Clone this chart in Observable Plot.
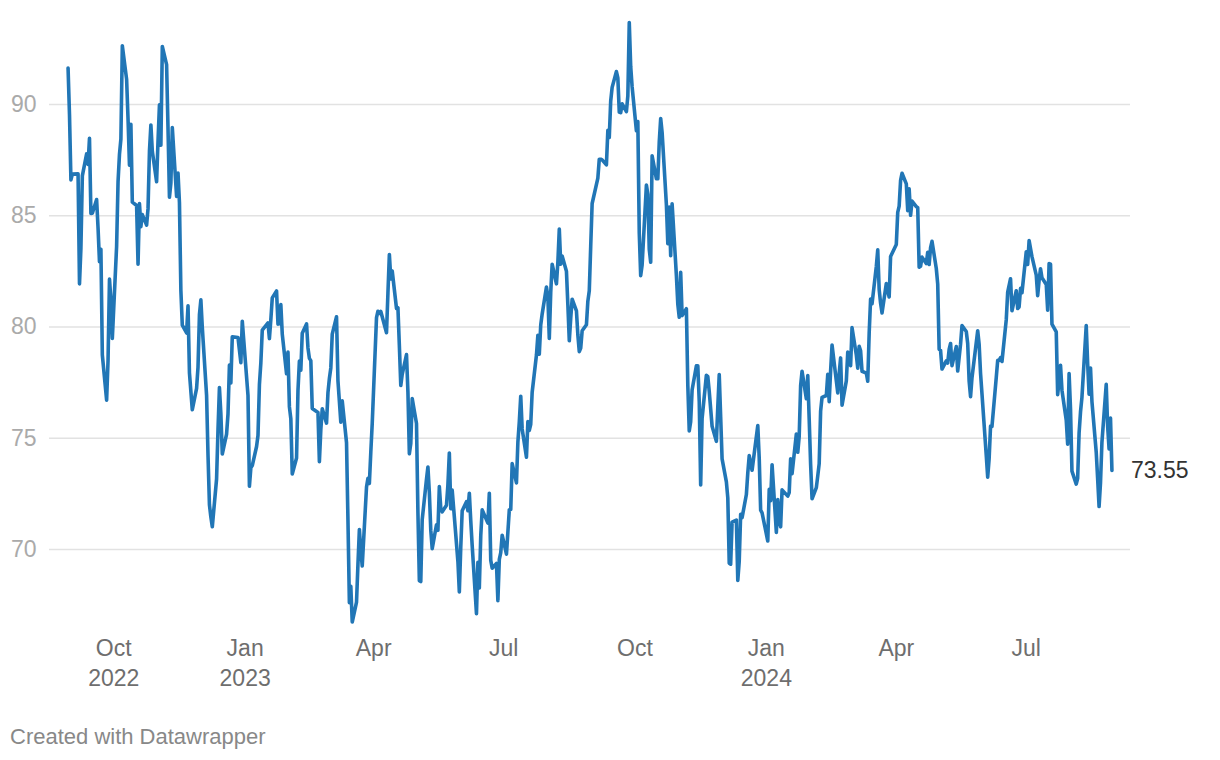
<!DOCTYPE html>
<html>
<head>
<meta charset="utf-8">
<script src="https://cdn.jsdelivr.net/npm/d3@7"></script>
<script src="https://cdn.jsdelivr.net/npm/@observablehq/plot@0.6"></script>
<style>
  html, body { margin: 0; padding: 0; background: #fff; }
  body { width: 1220px; height: 760px; overflow: hidden; font-family: "Liberation Sans", Arial, Helvetica, sans-serif; }
  #footer { margin-top: 19px; padding-left: 10px; font-size: 22px; line-height: 26px; color: #888; }
</style>
</head>
<body>
<div id="chart"></div>
<div id="footer">Created with Datawrapper</div>
<script>
// Daily closes, [month-day, value]
const wti2022 = [["08-30",91.64],["08-31",89.55],["09-01",86.61],["09-02",86.87],["09-06",86.88],["09-07",81.94],["09-08",83.54],["09-09",86.79],["09-12",87.78],["09-13",87.31],["09-14",88.48],["09-15",85.10],["09-16",85.11],["09-19",85.73],["09-20",84.45],["09-21",82.94],["09-22",83.49],["09-23",78.74],["09-26",76.71],["09-27",78.50],["09-28",82.15],["09-29",81.23],["09-30",79.49],["10-03",83.63],["10-04",86.52],["10-05",87.76],["10-06",88.45],["10-07",92.64],["10-10",91.13],["10-11",89.35],["10-12",87.27],["10-13",89.11],["10-14",85.61],["10-17",85.46],["10-18",82.82],["10-19",85.55],["10-20",84.51],["10-21",85.05],["10-24",84.58],["10-25",85.32],["10-26",87.91],["10-27",89.08],["10-28",87.90],["10-31",86.53],["11-01",88.37],["11-02",89.99],["11-03",88.17],["11-04",92.61],["11-07",91.79],["11-08",88.91],["11-09",85.83],["11-10",86.47],["11-11",88.96],["11-14",85.87],["11-15",86.92],["11-16",85.59],["11-17",81.64],["11-18",80.08],["11-21",79.73],["11-22",80.95],["11-23",77.94],["11-25",76.28],["11-28",77.24],["11-29",78.20],["11-30",80.55],["12-01",81.22],["12-02",79.98],["12-05",76.93],["12-06",74.25],["12-07",72.01],["12-08",71.46],["12-09",71.02],["12-12",73.17],["12-13",75.39],["12-14",77.28],["12-15",76.11],["12-16",74.29],["12-19",75.19],["12-20",76.09],["12-21",78.29],["12-22",77.49],["12-23",79.56],["12-27",79.53],["12-28",78.96],["12-29",78.40],["12-30",80.26]];

const wti2023 = [["01-03",76.93],["01-04",72.84],["01-05",73.67],["01-06",73.77],["01-09",74.63],["01-10",75.12],["01-11",77.41],["01-12",78.39],["01-13",79.86],["01-17",80.18],["01-18",79.48],["01-19",80.33],["01-20",81.31],["01-23",81.62],["01-24",80.13],["01-25",80.15],["01-26",81.01],["01-27",79.68],["01-30",77.90],["01-31",78.87],["02-01",76.41],["02-02",75.88],["02-03",73.39],["02-06",74.11],["02-07",77.14],["02-08",78.47],["02-09",78.06],["02-10",79.72],["02-13",80.14],["02-14",79.06],["02-15",78.59],["02-16",78.49],["02-17",76.34],["02-21",76.16],["02-22",73.95],["02-23",75.39],["02-24",76.32],["02-27",75.68],["02-28",77.05],["03-01",77.69],["03-02",78.16],["03-03",79.68],["03-06",80.46],["03-07",77.58],["03-08",76.66],["03-09",75.72],["03-10",76.68],["03-13",74.80],["03-14",71.33],["03-15",67.61],["03-16",68.35],["03-17",66.74],["03-20",67.64],["03-21",69.33],["03-22",70.90],["03-23",69.96],["03-24",69.26],["03-27",72.81],["03-28",73.20],["03-29",72.97],["03-30",74.37],["03-31",75.67],["04-03",80.42],["04-04",80.71],["04-05",80.61],["04-06",80.70],["04-10",79.74],["04-11",81.53],["04-12",83.26],["04-13",82.16],["04-14",82.52],["04-17",80.83],["04-18",80.86],["04-19",79.16],["04-20",77.37],["04-21",77.87],["04-24",78.76],["04-25",77.07],["04-26",74.30],["04-27",74.76],["04-28",76.78],["05-01",75.66],["05-02",71.66],["05-03",68.60],["05-04",68.56],["05-05",71.34],["05-08",73.16],["05-09",73.71],["05-10",72.56],["05-11",70.87],["05-12",70.04],["05-15",71.11],["05-16",70.86],["05-17",72.83],["05-18",71.86],["05-19",71.69],["05-22",71.99],["05-23",72.91],["05-24",74.34],["05-25",71.83],["05-26",72.67],["05-30",69.46],["05-31",68.09],["06-01",70.10],["06-02",71.74],["06-05",72.15],["06-06",71.74],["06-07",72.53],["06-08",71.29],["06-09",70.17],["06-12",67.12],["06-13",69.42],["06-14",68.27],["06-15",70.62],["06-16",71.78],["06-20",71.19],["06-21",72.53],["06-22",69.51],["06-23",69.16],["06-26",69.37],["06-27",67.70],["06-28",69.56],["06-29",69.86],["06-30",70.64],["07-03",69.79],["07-05",71.79],["07-06",71.80],["07-07",73.86],["07-10",72.99],["07-11",74.83],["07-12",75.75],["07-13",76.89],["07-14",75.42],["07-17",74.15],["07-18",75.75],["07-19",75.35],["07-20",75.63],["07-21",77.07],["07-24",78.74],["07-25",79.63],["07-26",78.78],["07-27",80.09],["07-28",80.58],["07-31",81.80],["08-01",81.37],["08-02",79.49],["08-03",81.55],["08-04",82.82],["08-07",81.94],["08-08",82.92],["08-09",84.40],["08-10",82.82],["08-11",83.19],["08-14",82.51],["08-15",80.99],["08-16",79.38],["08-17",80.39],["08-18",81.25],["08-21",80.72],["08-22",79.64],["08-23",78.89],["08-24",79.05],["08-25",79.83],["08-28",80.10],["08-29",81.16],["08-30",81.63],["08-31",83.63],["09-01",85.55],["09-05",86.69],["09-06",87.54],["09-07",87.54],["09-08",87.51],["09-11",87.29],["09-12",88.84],["09-13",88.52],["09-14",90.16],["09-15",90.77],["09-18",91.48],["09-19",91.20],["09-20",89.66],["09-21",89.63],["09-22",90.03],["09-25",89.68],["09-26",90.39],["09-27",93.68],["09-28",91.71],["09-29",90.79],["10-02",88.82],["10-03",89.23],["10-04",84.22],["10-05",82.31],["10-06",82.79],["10-09",86.38],["10-10",85.97],["10-11",83.49],["10-12",82.91],["10-13",87.69],["10-16",86.66],["10-17",86.66],["10-18",88.32],["10-19",89.37],["10-20",88.75],["10-23",85.49],["10-24",83.74],["10-25",85.39],["10-26",83.21],["10-27",85.54],["10-30",82.31],["10-31",81.02],["11-01",80.44],["11-02",82.46],["11-03",80.51],["11-06",80.82],["11-07",77.37],["11-08",75.33],["11-09",75.74],["11-10",77.17],["11-13",78.26],["11-14",78.26],["11-15",76.66],["11-16",72.90],["11-17",75.89],["11-20",77.83],["11-21",77.77],["11-22",77.10],["11-24",75.54],["11-27",74.86],["11-28",76.41],["11-29",77.86],["11-30",75.96],["12-01",74.07],["12-04",73.04],["12-05",72.32],["12-06",69.38],["12-07",69.34],["12-08",71.23],["12-11",71.32],["12-12",68.61],["12-13",69.47],["12-14",71.58],["12-15",71.43],["12-18",72.47],["12-19",73.44],["12-20",74.22],["12-21",73.89],["12-22",73.56],["12-26",75.57],["12-27",74.11],["12-28",71.77],["12-29",71.65]];

const wti2024 = [["01-02",70.38],["01-03",72.70],["01-04",72.19],["01-05",73.81],["01-08",70.77],["01-09",72.24],["01-10",71.37],["01-11",71.02],["01-12",72.68],["01-16",72.40],["01-17",72.56],["01-18",74.08],["01-19",73.41],["01-22",75.19],["01-23",74.37],["01-24",75.09],["01-25",77.36],["01-26",78.01],["01-29",76.78],["01-30",77.82],["01-31",75.85],["02-01",73.82],["02-02",72.28],["02-05",72.78],["02-06",73.31],["02-07",73.86],["02-08",76.22],["02-09",76.84],["02-12",76.92],["02-13",77.87],["02-14",76.64],["02-15",78.03],["02-16",79.19],["02-20",77.04],["02-21",77.91],["02-22",78.61],["02-23",76.49],["02-26",77.58],["02-27",78.87],["02-28",78.54],["02-29",78.26],["03-01",79.97],["03-04",78.74],["03-05",78.15],["03-06",79.13],["03-07",78.93],["03-08",78.01],["03-11",77.93],["03-12",77.56],["03-13",79.72],["03-14",81.26],["03-15",81.04],["03-18",82.72],["03-19",83.47],["03-20",81.68],["03-21",81.07],["03-22",80.63],["03-25",81.95],["03-26",81.62],["03-27",81.35],["03-28",83.17],["04-01",83.71],["04-02",85.15],["04-03",85.43],["04-04",86.59],["04-05",86.91],["04-08",86.43],["04-09",85.23],["04-10",86.21],["04-11",85.02],["04-12",85.66],["04-15",85.41],["04-16",85.36],["04-17",82.69],["04-18",82.73],["04-19",83.14],["04-22",82.85],["04-23",83.36],["04-24",82.81],["04-25",83.57],["04-26",83.85],["04-29",82.63],["04-30",81.93],["05-01",79.00],["05-02",78.95],["05-03",78.11],["05-06",78.48],["05-07",78.38],["05-08",78.99],["05-09",79.26],["05-10",78.26],["05-13",79.12],["05-14",78.02],["05-15",78.63],["05-16",79.23],["05-17",80.06],["05-20",79.80],["05-21",79.26],["05-22",77.57],["05-23",76.87],["05-24",77.72],["05-28",79.83],["05-29",79.23],["05-30",77.91],["05-31",76.99],["06-03",74.22],["06-04",73.25],["06-05",74.07],["06-06",75.55],["06-07",75.53],["06-10",77.74],["06-11",78.50],["06-12",78.50],["06-13",78.62],["06-14",78.45],["06-17",80.33],["06-18",81.57],["06-20",82.17],["06-21",80.73],["06-24",81.63],["06-25",80.83],["06-26",80.90],["06-27",81.74],["06-28",81.54],["07-01",83.38],["07-02",82.81],["07-03",83.88],["07-05",83.16],["07-08",82.33],["07-09",81.41],["07-10",82.10],["07-11",82.62],["07-12",82.21],["07-15",81.91],["07-16",80.76],["07-17",82.85],["07-18",82.82],["07-19",80.13],["07-22",79.78],["07-23",76.96],["07-24",77.59],["07-25",78.28],["07-26",77.16],["07-29",75.81],["07-30",74.73],["07-31",77.91],["08-01",76.31],["08-02",73.52],["08-05",72.94],["08-06",73.20],["08-07",75.23],["08-08",76.19],["08-09",76.84],["08-12",80.06],["08-13",78.35],["08-14",76.98],["08-15",78.16],["08-16",76.65],["08-19",74.37],["08-20",73.17],["08-21",71.93],["08-22",73.01],["08-23",74.83],["08-26",77.42],["08-27",75.53],["08-28",74.52],["08-29",75.91],["08-30",73.55]];

const xTickDates = ["2022-10-01","2023-01-01","2023-04-01","2023-07-01","2023-10-01","2024-01-01","2024-04-01","2024-07-01"];
const xTickLabels = ["Oct\n2022","Jan\n2023","Apr","Jul","Oct","Jan\n2024","Apr","Jul"];
const yTicks = [70, 75, 80, 85, 90];

const rows = [];
[[2022, wti2022], [2023, wti2023], [2024, wti2024]].forEach(([yr, arr]) => {
  arr.forEach(([md, v]) => rows.push({date: new Date(`${yr}-${md}`), value: v}));
});
const tickDates = xTickDates.map(d => new Date(d));
const labelFor = new Map(tickDates.map((d, i) => [d.getTime(), xTickLabels[i]]));

const font = '"Liberation Sans", Arial, Helvetica, sans-serif';

const chart = Plot.plot({
  width: 1220,
  height: 705,
  marginLeft: 49,
  marginRight: 90,
  marginTop: 15,
  marginBottom: 67,
  style: {fontFamily: font, background: "#fff", overflow: "visible"},
  x: {type: "utc", domain: [new Date("2022-08-17"), new Date("2024-09-12")]},
  y: {domain: [66, 94]},
  marks: [
    Plot.gridY(yTicks, {stroke: "#e2e2e2", strokeOpacity: 1, strokeWidth: 1.3}),
    Plot.axisY(yTicks, {tickSize: 0, tickPadding: 13, fontSize: 23, fill: "#aaaaaa", label: null}),
    Plot.axisX(tickDates, {
      tickSize: 0, tickPadding: -4, fontSize: 23, lineHeight: 1.3, fill: "#6e6e6e", label: null,
      tickFormat: d => labelFor.get(d.getTime())
    }),
    Plot.lineY(rows, {x: "date", y: "value", stroke: "#2176b6", strokeWidth: 3.6, strokeLinejoin: "round", strokeLinecap: "round"}),
    Plot.text(rows, Plot.selectLast({x: "date", y: "value", text: d => d.value.toFixed(2), textAnchor: "start", dx: 19, fontSize: 23, fill: "#333333"}))
  ]
});
document.getElementById("chart").appendChild(chart);
</script>
</body>
</html>
